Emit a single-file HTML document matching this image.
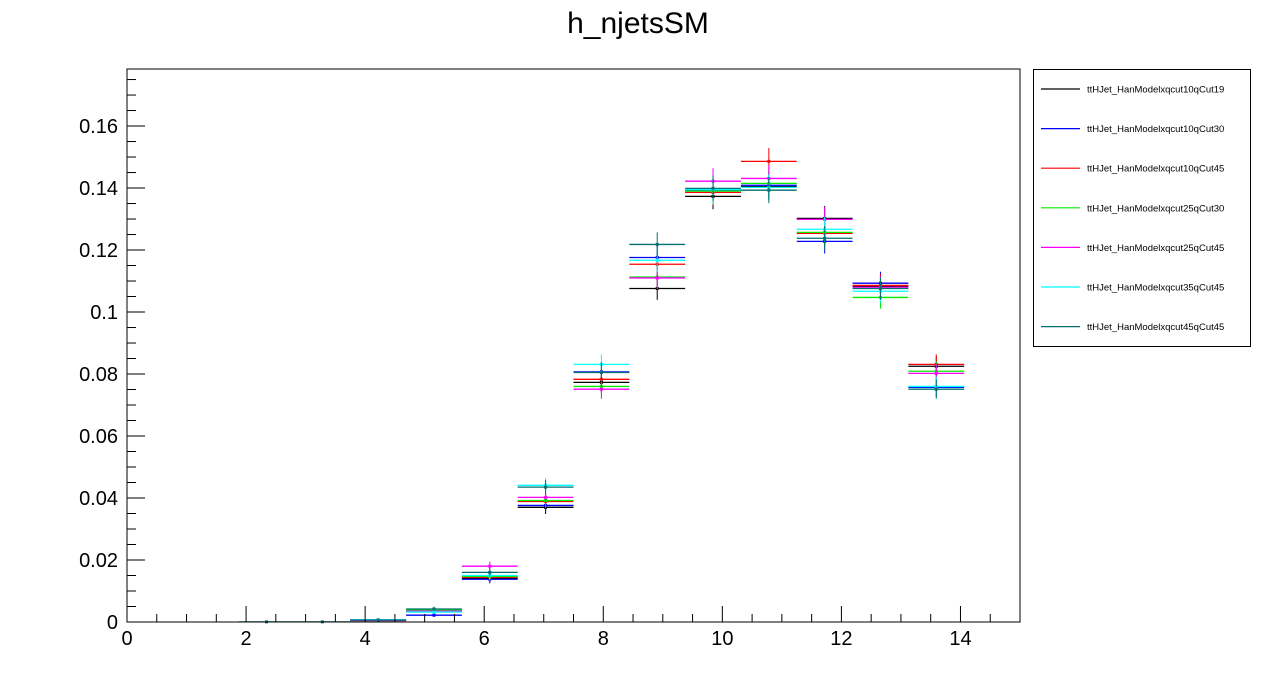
<!DOCTYPE html>
<html><head><meta charset="utf-8"><style>
html,body{margin:0;padding:0;background:#fff;}
svg{display:block;font-family:"Liberation Sans",Arial,sans-serif;}
</style></head><body>
<svg id="chart" width="1276" height="692" viewBox="0 0 1276 692">
<rect x="0" y="0" width="1276" height="692" fill="#fff"/>
<text x="638" y="33" font-size="30" text-anchor="middle" fill="#000">h_njetsSM</text>
<g id="plot"></g>
<rect x="127" y="69" width="893" height="553" fill="none" stroke="#000" stroke-width="1"/>
<g id="axes"></g>
<g id="legend"></g>
</svg>
<script>
const seriesNames = ["ttHJet_HanModelxqcut10qCut19","ttHJet_HanModelxqcut10qCut30","ttHJet_HanModelxqcut10qCut45","ttHJet_HanModelxqcut25qCut30","ttHJet_HanModelxqcut25qCut45","ttHJet_HanModelxqcut35qCut45","ttHJet_HanModelxqcut45qCut45"];
const seriesColors = ["#000000","#0000ff","#ff0000","#00ee00","#ff00ff","#00ffff","#007070"];
const binLow = 0, binHigh = 15, nBins = 16;
const xTicks = [0,2,4,6,8,10,12,14];
const yTicks = [0,0.02,0.04,0.06,0.08,0.1,0.12,0.14,0.16];
const yTickLabels = ["0","0.02","0.04","0.06","0.08","0.1","0.12","0.14","0.16"];
const sBlack   = [0,0,0,0,0.0005,0.0036,0.0141,0.0370,0.0773,0.1076,0.1373,0.1405,0.1302,0.1083,0.0825,0];
const sBlue    = [0,0,0,0,0.0007,0.0022,0.0138,0.0376,0.0807,0.1176,0.1393,0.1409,0.1228,0.1093,0.0757,0];
const sRed     = [0,0,0,0,0.0005,0.0037,0.0144,0.0389,0.0783,0.1154,0.1386,0.1486,0.1254,0.1086,0.0831,0];
const sGreen   = [0,0,0,0,0.0005,0.0039,0.0147,0.0392,0.0760,0.1113,0.1390,0.1415,0.1257,0.1047,0.0809,0];
const sMagenta = [0,0,0,0,0.0005,0.0035,0.0180,0.0402,0.0751,0.1110,0.1422,0.1431,0.1299,0.1080,0.0802,0];
const sCyan    = [0,0,0,0,0.0007,0.0032,0.0150,0.0441,0.0831,0.1167,0.1395,0.1402,0.1267,0.1067,0.0760,0];
const sTeal    = [0,0,0.00005,0.00005,0.0006,0.0042,0.0160,0.0435,0.0805,0.1218,0.1399,0.1393,0.1238,0.1076,0.0751,0];
const allSeries = [sBlack,sBlue,sRed,sGreen,sMagenta,sCyan,sTeal];

const NS="http://www.w3.org/2000/svg";
const X0=127,X1=1020,Y0=622,Y1=69,YMAX=0.1784;
const sx=v=>X0+(v-binLow)/(binHigh-binLow)*(X1-X0);
const sy=v=>Y0-v/YMAX*(Y0-Y1);
function mk(tag,attrs,parent){const e=document.createElementNS(NS,tag);for(const k in attrs)e.setAttribute(k,attrs[k]);parent.appendChild(e);return e;}
const plot=document.getElementById('plot'),axes=document.getElementById('axes'),legend=document.getElementById('legend');
const bw=(binHigh-binLow)/nBins;
allSeries.forEach((s,si)=>{
  const g=mk('g',{},plot);
  
  
  s.forEach((v,i)=>{
    if(v<=0)return;
    const xl=sx(binLow+i*bw),xr=sx(binLow+(i+1)*bw),xc=(xl+xr)/2,y=sy(v);
    const err=0.0112*Math.sqrt(v);
    const h=mk('line',{x1:xl,x2:xr,y1:y,y2:y,stroke:seriesColors[si],'stroke-width':1.3},g);
    
    
    const e=mk('line',{x1:xc,x2:xc,y1:sy(v+err),y2:sy(Math.max(0,v-err)),stroke:seriesColors[si],'stroke-width':1},g);
    
    
    const m=mk('rect',{x:xc-1.5,y:y-1.5,width:3,height:3,fill:seriesColors[si]},g);
    
    
  });
});
// x ticks
for(let t=0;t<=15;t+=0.5){
  const major=Math.abs(t/2-Math.round(t/2))<1e-9;
  const x=sx(t);
  const l=mk('line',{x1:x,x2:x,y1:Y0,y2:Y0-(major?16:8),stroke:'#000','stroke-width':1},axes);
  
  
}
xTicks.forEach(t=>{
  const tx=mk('text',{x:sx(t),y:645,'font-size':20,'text-anchor':'middle'},axes);
  tx.textContent=String(t);
  
  
});
for(let k=0;k*0.005<=YMAX;k++){
  const v=k*0.005,major=k%4===0,y=sy(v);
  const l=mk('line',{x1:X0,x2:X0+(major?18:9),y1:y,y2:y,stroke:'#000','stroke-width':1},axes);
  
  
}
yTicks.forEach((t,i)=>{
  const tx=mk('text',{x:118,y:sy(t)+7,'font-size':20,'text-anchor':'end'},axes);
  tx.textContent=yTickLabels[i];
  
  
});
// legend
const lb=mk('rect',{x:1033.5,y:69.5,width:217,height:277,fill:'#fff',stroke:'#000','stroke-width':1},legend);


seriesNames.forEach((n,i)=>{
  const y=89+i*39.6;
  const g=mk('g',{},legend);
  
  
  mk('line',{x1:1041,x2:1080,y1:y,y2:y,stroke:seriesColors[i],'stroke-width':1.2},g);
  const t=mk('text',{x:1087,y:y+3.5,'font-size':9.5},g);
  t.textContent=n;
});
</script>
</body></html>
